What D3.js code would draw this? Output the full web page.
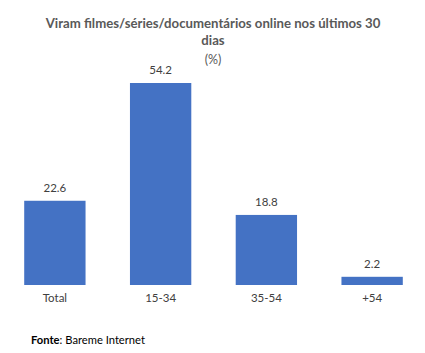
<!DOCTYPE html>
<html><head><meta charset="utf-8">
<script src="https://cdn.jsdelivr.net/npm/d3@7"></script>
<style>body{margin:0;background:#fff}svg{display:block}</style>
</head><body>
<script>
const categories = ["Total", "15-34", "35-54", "+54"];
const values = [22.6, 54.2, 18.8, 2.2];
const titleLines = ["Viram filmes/séries/documentários online nos últimos 30", "dias"];
const subtitle = "(%)";
const sourceLabel = "Fonte";
const sourceText = ": Bareme Internet";

const W = 425, H = 353;
const svg = d3.select("body").append("svg").attr("width", W).attr("height", H);
const font = "Lato, 'Open Sans', sans-serif";

const x = d3.scaleBand().domain(categories).range([2, 425]).paddingInner(0.42).paddingOuter(0.21);
const y = d3.scaleLinear().domain([0, 54.2]).range([285, 83]);

svg.selectAll("text.title").data(titleLines).join("text")
  .attr("x", 213).attr("y", (d, i) => 28 + i * 17)
  .attr("text-anchor", "middle").attr("font-family", font).attr("font-weight", "bold")
  .attr("font-size", 13.2).attr("fill", "#595959").text(d => d);
svg.append("text").attr("x", 213).attr("y", 64).attr("text-anchor", "middle")
  .attr("font-family", font).attr("font-size", 12.5).attr("fill", "#595959").text(subtitle);

svg.selectAll("rect.bar").data(values).join("rect")
  .attr("x", (d, i) => x(categories[i])).attr("width", x.bandwidth())
  .attr("y", d => y(d)).attr("height", d => y(0) - y(d)).attr("fill", "#4472C4");

svg.selectAll("text.val").data(values).join("text")
  .attr("x", (d, i) => x(categories[i]) + x.bandwidth() / 2).attr("y", d => y(d) - 9)
  .attr("text-anchor", "middle").attr("font-family", font).attr("font-size", 11.5)
  .attr("fill", "#404040").text(d => d.toFixed(1));

const xAxis = d3.axisBottom(x).tickSize(0).tickPadding(9);
const ax = svg.append("g").attr("transform", "translate(0,285)").call(xAxis);
ax.select(".domain").remove();
ax.selectAll("text").attr("font-family", font).attr("font-size", 11.5).attr("fill", "#404040");

const src = svg.append("text").attr("x", 31).attr("y", 344).attr("font-family", font).attr("font-size", 11.2).attr("fill", "#000");
src.append("tspan").attr("font-weight", "bold").text(sourceLabel);
src.append("tspan").text(sourceText);
</script>
</body></html>
